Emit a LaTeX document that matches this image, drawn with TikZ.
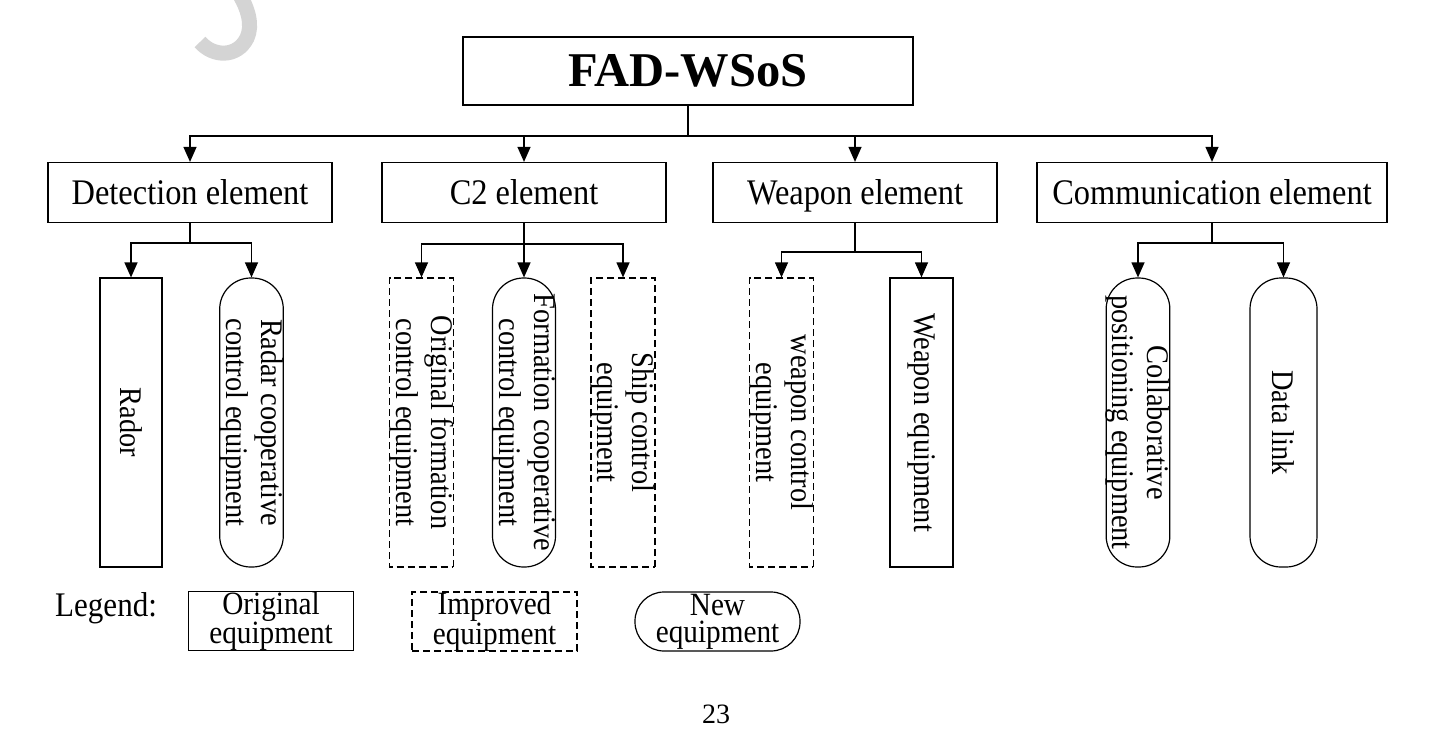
\documentclass[tikz,border=0pt]{standalone}
\usepackage{fontspec}
\setmainfont{Liberation Serif}
\newfontfamily\narrowserif{Liberation Serif}[FakeStretch=0.9]
\usepackage{graphicx}
\usetikzlibrary{arrows.meta}
\tikzset{
  conn/.style={line width=1.2pt, draw=black},
  arr/.style={conn, -{Triangle[length=15pt,width=13pt]}},
  box/.style={draw=black, line width=1.2pt, rectangle, inner sep=0pt, align=center},
  elem/.style={box, minimum width=284pt, minimum height=60pt, text height=27pt, text depth=4pt, font=\narrowserif\fontsize{36}{38}\selectfont},
  leaf/.style={box, rotate=-90, minimum width=289pt, minimum height=63pt, font=\narrowserif\fontsize{31.5}{35}\selectfont},
  origbox/.style={},
  imprbox/.style={dash pattern=on 7pt off 4pt},
  newbox/.style={rounded corners=31pt},
  legbox/.style={box, minimum width=165pt, minimum height=59pt, font=\narrowserif\fontsize{32.5}{27}\selectfont},
}
\begin{document}
\begin{tikzpicture}[x=1pt,y=-1pt]
\useasboundingbox (0,0) rectangle (1430,745);
\clip (0,0) rectangle (1430,745);
\fill[white] (0,0) rectangle (1430,745);
% watermark fragment
\draw[line width=15pt, color=black!17] (200,42) .. controls (213,57) and (237,58) .. (247,38) .. controls (253,25) and (248,8) .. (238,-8);

% root
\node[box, minimum width=450pt, minimum height=68pt, font=\fontsize{48.5}{52}\selectfont\bfseries] (root) at (688,71) {FAD-WSoS};

% elements
\node[elem] (det) at (190,192.5) {Detection element};
\node[elem] (ctl) at (524,192.5) {C2 element};
\node[elem] (wea) at (855,192.5) {Weapon element};
\node[elem, minimum width=350pt] (com) at (1212,192.5) {Communication element};

\coordinate (bus) at (688,136);
\draw[conn] (root.south) -- (bus);
\draw[arr] (bus) -| (det.north);
\draw[arr] (bus) -| (ctl.north);
\draw[arr] (bus) -| (wea.north);
\draw[arr] (bus) -| (com.north);

% leaves
\node[leaf, origbox, minimum height=62pt] (rador) at (131,422.5) {Rador};
\node[leaf, newbox] (radco) at (251.5,422.5) {Radar cooperative\\control equipment};

\node[leaf, imprbox] (origf) at (421.5,422.5) {Original formation\\control equipment};
\node[leaf, newbox] (formco) at (524,422.5) {Formation cooperative\\control equipment};
\node[leaf, imprbox, minimum height=64pt] (ship) at (623,422.5) {Ship control\\equipment};

\node[leaf, imprbox] (wctl) at (781.5,422.5) {weapon control\\equipment};
\node[leaf, origbox] (weq) at (921.5,422.5) {Weapon equipment};

\node[leaf, newbox, minimum height=62pt] (colpos) at (1138,422.5) {Collaborative\\positioning equipment};
\node[leaf, newbox, minimum height=67pt] (dlink) at (1283.5,422.5) {Data link};

% branch connectors
\coordinate (dj) at (190,243);
\draw[conn] (det.south) -- (dj);
\draw[arr] (dj) -| (rador.west);
\draw[arr] (dj) -| (radco.west);

\coordinate (cj) at (524,244);
\draw[conn] (ctl.south) -- (cj);
\draw[arr] (cj) -| (origf.west);
\draw[arr] (cj) -- (formco.west);
\draw[arr] (cj) -| (ship.west);

\coordinate (wj) at (855,252);
\draw[conn] (wea.south) -- (wj);
\draw[arr] (wj) -| (wctl.west);
\draw[arr] (wj) -| (weq.west);

\coordinate (mj) at (1212,243);
\draw[conn] (com.south) -- (mj);
\draw[arr] (mj) -| (colpos.west);
\draw[arr] (mj) -| (dlink.west);

% legend
\node[anchor=base west, inner sep=0pt, font=\narrowserif\fontsize{34.5}{36}\selectfont] (leg) at (55,616) {Legend:};
\node[legbox, origbox] (lorig) at (271,621) {Original\\equipment};
\node[legbox, imprbox] (limpr) at (494.5,621.5) {Improved\\equipment};
\node[legbox, rounded corners=29pt] (lnew) at (717.5,621.5) {New\\equipment};

% page number
\node[inner sep=0pt, font=\fontsize{28}{30}\selectfont] (page) at (716,714) {23};
\end{tikzpicture}
\end{document}
